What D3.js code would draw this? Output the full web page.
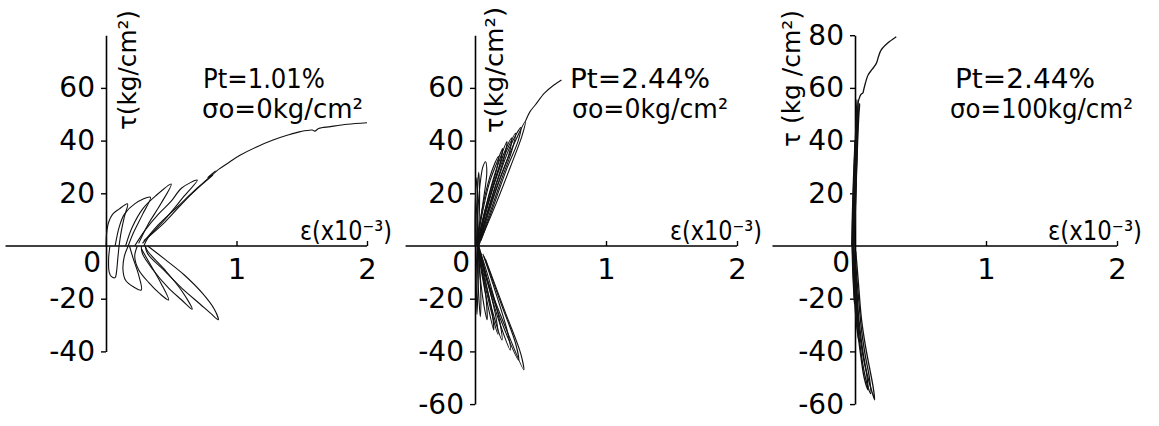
<!DOCTYPE html>
<html><head><meta charset="utf-8">
<script src="https://cdn.jsdelivr.net/npm/d3@7"></script>
<style>
body{margin:0;background:#fff}
svg{display:block}
text{font-family:"DejaVu Sans",sans-serif;fill:#000}
</style>
</head><body>
<svg id="chart" width="1159" height="426"></svg>
<script>
// ---------------- DATA ----------------
// strain (x10^-3), shear stress tau (kg/cm2)
const xTickValues = [1, 2];
const p1YTicks = [60, 40, 20, -20, -40];
const p2YTicks = [60, 40, 20, -20, -40, -60];
const p3YTicks = [80, 60, 40, 20, -20, -40, -60];
const notePt = ["Pt=1.01%", "Pt=2.44%", "Pt=2.44%"];
const noteSigma = ["σo=0kg/cm²", "σo=0kg/cm²", "σo=100kg/cm²"];
const yTitle = ["τ(kg/cm²)", "τ(kg/cm²)", "τ (kg /cm²)"];
const xTitle = "ε(x10⁻³)";

// Panel 1: Pt=1.01%, sigma0=0
const p1Upper = [
  [[0.0,0],[0.005,5],[0.02,9],[0.05,12],[0.10,14],[0.165,16],[0.14,11],[0.115,5],[0.10,0]],
  [[0.07,0],[0.10,7],[0.14,12],[0.22,16],[0.34,18.5],[0.28,12],[0.21,5],[0.17,0]],
  [[0.15,0],[0.20,7],[0.28,14],[0.38,19],[0.50,23.5],[0.42,16],[0.32,8],[0.25,1]],
  [[0.22,0],[0.30,6],[0.40,12],[0.50,17],[0.58,22],[0.70,25],[0.60,19],[0.45,10],[0.32,3],[0.29,0]],
  [[0.29,2],[0.45,9],[0.62,18],[0.75,24],[0.82,27],[0.78,26],[0.84,28.5]],
  [[0.28,1],[0.40,8],[0.55,15],[0.70,22],[0.86,29]]
];
const p1Envelope = [[0.86,29],[0.95,32],[1.03,34.5],[1.15,37.5],[1.28,40.2],[1.40,42.2],[1.49,43.4],[1.58,44.0],[1.60,43.6],[1.63,44.6],[1.72,45.3],[1.85,46.2],[2.0,46.8]];
const p1Lower = [
  [[0.10,0],[0.09,-5],[0.08,-10],[0.07,-12],[0.04,-11.5],[0.025,-10],[0.02,-5],[0.03,0]],
  [[0.17,0],[0.14,-4],[0.13,-9],[0.15,-13],[0.21,-15.5],[0.27,-16.7],[0.25,-11],[0.21,-5],[0.18,0]],
  [[0.24,0],[0.22,-4],[0.25,-9],[0.33,-14],[0.41,-18],[0.48,-20.5],[0.42,-14],[0.34,-7],[0.27,-1]],
  [[0.27,0],[0.28,-3],[0.36,-9],[0.48,-16],[0.58,-20.5],[0.66,-24],[0.58,-17],[0.45,-9],[0.32,-2],[0.30,0]],
  [[0.30,0],[0.32,-3],[0.44,-9],[0.58,-16],[0.72,-22],[0.80,-25.5],[0.86,-28],[0.83,-24],[0.74,-18],[0.60,-11],[0.45,-5],[0.32,0]]
];

// Panel 2: Pt=2.44%, sigma0=0
const p2Upper = [
  [[0.0,0],[0.0,10],[0.005,20],[0.015,26],[0.02,18],[0.02,8],[0.015,0]],
  [[0.005,0],[0.01,12],[0.02,22],[0.028,28],[0.035,20],[0.03,8],[0.02,0]],
  [[0.01,0],[0.02,12],[0.04,24],[0.06,30],[0.08,32],[0.09,28],[0.06,16],[0.03,5],[0.02,0]],
  [[0.01,0],[0.04,10],[0.09,22],[0.14,30],[0.18,34],[0.16,28],[0.10,18],[0.04,6],[0.025,0]],
  [[0.012,0],[0.05,11],[0.11,24],[0.17,32],[0.21,37],[0.19,31],[0.12,20],[0.05,7],[0.028,0]],
  [[0.015,0],[0.06,10],[0.12,22],[0.19,33],[0.244,39.6],[0.22,33],[0.15,22],[0.08,10],[0.03,0]],
  [[0.018,0],[0.07,11],[0.14,23],[0.22,35],[0.28,41],[0.26,35],[0.18,24],[0.10,12],[0.035,1]],
  [[0.02,0],[0.08,12],[0.15,24],[0.24,36],[0.31,42.8],[0.28,36],[0.20,25],[0.11,12],[0.04,2]],
  [[0.02,0],[0.09,12],[0.18,26],[0.27,38],[0.35,45],[0.33,40],[0.24,29],[0.14,15],[0.045,2]],
  [[0.02,0],[0.10,13],[0.20,27],[0.30,39],[0.384,47.2],[0.36,42],[0.27,30],[0.16,16],[0.05,3]]
];
const p2Envelope = [[0.384,47.2],[0.42,51],[0.46,53.5],[0.53,58],[0.60,61],[0.66,63]];
const p2Lower = [
  [[0.015,0],[0.01,-10],[0.012,-20],[0.015,-26],[0.022,-18],[0.025,-8],[0.02,0]],
  [[0.02,0],[0.02,-10],[0.03,-20],[0.04,-26.8],[0.045,-20],[0.035,-8],[0.025,0]],
  [[0.02,0],[0.04,-12],[0.07,-23],[0.092,-28],[0.085,-20],[0.05,-8],[0.03,0]],
  [[0.02,0],[0.05,-10],[0.10,-23],[0.143,-31.9],[0.13,-25],[0.08,-13],[0.03,0]],
  [[0.02,0],[0.06,-11],[0.12,-24],[0.175,-33.5],[0.16,-27],[0.10,-14],[0.035,-1]],
  [[0.02,0],[0.07,-12],[0.14,-26],[0.206,-35.7],[0.19,-29],[0.12,-15],[0.04,-2]],
  [[0.02,0],[0.09,-13],[0.18,-28],[0.27,-39.5],[0.25,-33],[0.16,-18],[0.06,-3]],
  [[0.02,0],[0.10,-14],[0.22,-31],[0.333,-43.3],[0.31,-37],[0.20,-22],[0.07,-4]],
  [[0.02,0],[0.11,-15],[0.25,-33],[0.372,-47],[0.35,-41],[0.23,-25],[0.08,-5]]
];

// Panel 3: Pt=2.44%, sigma0=100
const p3Upper = [
  [[-0.025,0],[-0.02,12],[-0.012,25],[-0.004,35],[0.0,40],[-0.004,30],[-0.01,18],[-0.016,6],[-0.02,0]],
  [[-0.022,0],[-0.016,15],[-0.006,30],[0.004,42],[0.01,48],[0.006,40],[-0.002,28],[-0.01,14],[-0.016,0]],
  [[-0.018,0],[-0.01,15],[0.0,32],[0.008,46],[0.015,55.5],[0.018,50],[0.014,40],[0.004,24],[-0.006,8],[-0.012,0]],
  [[-0.012,0],[-0.002,14],[0.01,30],[0.02,44],[0.03,52],[0.036,54],[0.03,50],[0.022,42],[0.012,28],[0.002,12],[-0.008,0]],
  [[-0.008,0],[0.002,14],[0.012,30],[0.02,44],[0.024,52],[0.026,55],[0.032,56],[0.045,57.5],[0.061,58]],
  [[-0.015,0],[-0.006,14],[0.004,28],[0.012,40],[0.018,46],[0.016,38],[0.006,24],[-0.004,10],[-0.01,0]]
];
const p3Envelope = [[0.061,58],[0.075,61],[0.1,64.9],[0.13,67],[0.163,69.3],[0.18,72],[0.2,74.4],[0.25,77],[0.315,79.4]];
const p3Lower = [
  [[-0.022,0],[-0.018,-8],[-0.01,-17],[-0.004,-22],[0.0,-17],[-0.004,-8],[-0.012,0]],
  [[-0.02,0],[-0.014,-10],[-0.004,-20],[0.012,-30],[0.028,-36],[0.022,-28],[0.008,-18],[-0.006,-6],[-0.012,0]],
  [[-0.016,0],[-0.008,-12],[0.004,-22],[0.02,-32],[0.045,-42],[0.07,-50],[0.1,-54.6],[0.09,-49],[0.06,-40],[0.03,-28],[0.012,-16],[-0.002,-4]],
  [[-0.012,0],[-0.002,-12],[0.012,-23],[0.03,-34],[0.06,-45],[0.09,-52],[0.12,-56],[0.11,-50],[0.08,-42],[0.05,-32],[0.024,-18],[0.004,-6]],
  [[-0.008,0],[0.004,-12],[0.018,-24],[0.04,-35],[0.07,-44],[0.11,-52],[0.15,-58.4],[0.14,-54],[0.11,-46],[0.08,-38],[0.05,-28],[0.026,-14],[0.006,-2]],
  [[-0.018,0],[-0.01,-10],[0.002,-20],[0.016,-28],[0.02,-24],[0.01,-14],[-0.004,-4]]
];

// ---------------- LAYOUT ----------------
const panels = [
  {x0:106, x2:367, xMin:-0.77, yDom:[-40,80], ticks:p1YTicks, sw:1.1, curves:[...p1Upper, p1Envelope, ...p1Lower],
   yLab:{x:136, y:130, len:120}, eLab:{x:300, y:240, len:92}, pt:{x:203,y:88,len:122}, sg:{x:202,y:118,len:161}},
  {x0:475, x2:737, xMin:-0.53, yDom:[-60,80], ticks:p2YTicks, sw:1.1, curves:[...p2Upper, p2Envelope, ...p2Lower],
   yLab:{x:503, y:133, len:126}, eLab:{x:670, y:240, len:92}, pt:{x:570,y:88,len:140}, sg:{x:572,y:118,len:156}},
  {x0:855, x2:1117, xMin:-0.63, yDom:[-60,80], ticks:p3YTicks, sw:1.3, curves:[...p3Upper, p3Envelope, ...p3Lower],
   yLab:{x:800, y:147, len:137}, eLab:{x:1048, y:240, len:94}, pt:{x:955,y:88,len:140}, sg:{x:950,y:118,len:183}}
];
const yZero = 246, pxPerUnit = 2.635;

const svg = d3.select("#chart");

panels.forEach((p, i) => {
  const x = d3.scaleLinear().domain([0, 2]).range([p.x0, p.x2]);
  const y = d3.scaleLinear().domain(p.yDom)
    .range([yZero - p.yDom[0]*pxPerUnit, yZero - p.yDom[1]*pxPerUnit]);
  const g = svg.append("g");

  // x axis line (extends into negative strain)
  g.append("line").attr("x1", x(p.xMin)).attr("x2", x(2))
    .attr("y1", y(0)).attr("y2", y(0)).attr("stroke", "#000").attr("stroke-width", 1.6);
  const xa = d3.axisBottom(x).tickValues(xTickValues).tickSize(-5).tickSizeOuter(0)
    .tickPadding(12).tickFormat(d3.format("d"));
  const gx = g.append("g").attr("transform", `translate(0,${y(0)})`).call(xa);
  gx.select(".domain").remove();
  gx.selectAll("line").attr("stroke", "#000").attr("stroke-width", 1.4);
  gx.selectAll("text").attr("font-size", 29).attr("fill", "#000");

  // y axis
  const ya = d3.axisLeft(y).tickValues(p.ticks).tickSize(5).tickSizeOuter(0).tickPadding(6)
    .tickFormat(d => d < 0 ? "-" + Math.abs(d) : String(d));
  const gy = g.append("g").attr("transform", `translate(${x(0)},0)`).call(ya);
  gy.select(".domain").attr("stroke", "#000").attr("stroke-width", 1.6);
  gy.selectAll("line").attr("stroke", "#000").attr("stroke-width", 1.4);
  gy.selectAll("text").attr("font-size", 28).attr("fill", "#000");

  // origin label
  g.append("text").attr("x", x(0) - 5).attr("y", y(0) + 26).attr("text-anchor", "end")
    .attr("font-size", 28).text("0");

  // curves
  const line = d3.line().x(d => x(d[0])).y(d => y(d[1])).curve(d3.curveCatmullRom.alpha(0.5));
  g.append("g").selectAll("path").data(p.curves).join("path")
    .attr("d", line).attr("fill", "none").attr("stroke", "#111").attr("stroke-width", p.sw)
    .attr("stroke-linejoin", "round");

  // y label
  g.append("text").attr("transform", `translate(${p.yLab.x},${p.yLab.y}) rotate(-90)`)
    .attr("font-size", 25).attr("textLength", p.yLab.len).attr("lengthAdjust", "spacingAndGlyphs")
    .text(yTitle[i]);

  // x label
  g.append("text").attr("x", p.eLab.x).attr("y", p.eLab.y).attr("font-size", 26)
    .attr("textLength", p.eLab.len).attr("lengthAdjust", "spacingAndGlyphs").text(xTitle);

  // annotations
  g.append("text").attr("x", p.pt.x).attr("y", p.pt.y).attr("font-size", 27)
    .attr("textLength", p.pt.len).attr("lengthAdjust", "spacingAndGlyphs").text(notePt[i]);
  g.append("text").attr("x", p.sg.x).attr("y", p.sg.y).attr("font-size", 27)
    .attr("textLength", p.sg.len).attr("lengthAdjust", "spacingAndGlyphs").text(noteSigma[i]);
});
</script>
</body></html>
